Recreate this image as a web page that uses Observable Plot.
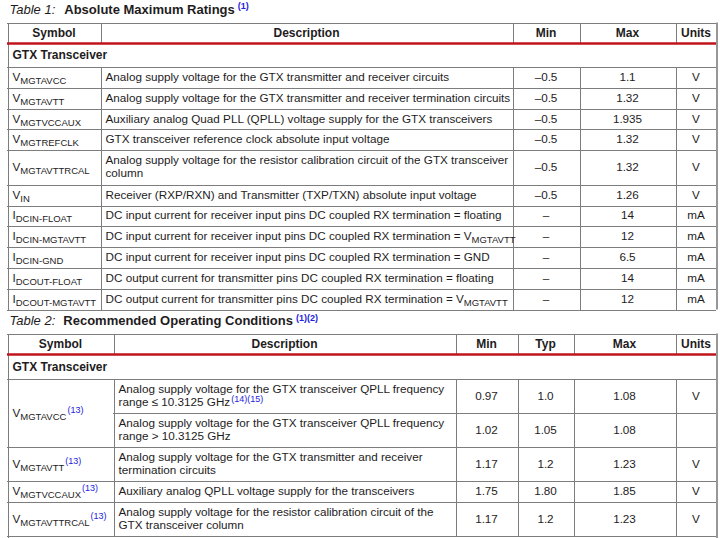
<!DOCTYPE html>
<html><head><meta charset="utf-8">
<script src="https://cdn.jsdelivr.net/npm/d3@7"></script>
<script src="https://cdn.jsdelivr.net/npm/@observablehq/plot@0.6"></script>
<style>html,body{margin:0;padding:0;background:#fff}</style>
</head><body><div id="chart"></div>
<script>
// ---------------- data ----------------
const title1 = "Table 1:";
const heading1 = "Absolute Maximum Ratings";
const notes1 = "(1)";
const columns1 = ["Symbol", "Description", "Min", "Max", "Units"];
const section1 = "GTX Transceiver";
const symbols1 = ["V_{MGTAVCC}", "V_{MGTAVTT}", "V_{MGTVCCAUX}", "V_{MGTREFCLK}", "V_{MGTAVTTRCAL}", "V_{IN}",
  "I_{DCIN-FLOAT}", "I_{DCIN-MGTAVTT}", "I_{DCIN-GND}", "I_{DCOUT-FLOAT}", "I_{DCOUT-MGTAVTT}"];
const descriptions1 = [
  "Analog supply voltage for the GTX transmitter and receiver circuits",
  "Analog supply voltage for the GTX transmitter and receiver termination circuits",
  "Auxiliary analog Quad PLL (QPLL) voltage supply for the GTX transceivers",
  "GTX transceiver reference clock absolute input voltage",
  "Analog supply voltage for the resistor calibration circuit of the GTX transceiver\ncolumn",
  "Receiver (RXP/RXN) and Transmitter (TXP/TXN) absolute input voltage",
  "DC input current for receiver input pins DC coupled RX termination = floating",
  "DC input current for receiver input pins DC coupled RX termination = V_{MGTAVTT}",
  "DC input current for receiver input pins DC coupled RX termination = GND",
  "DC output current for transmitter pins DC coupled RX termination = floating",
  "DC output current for transmitter pins DC coupled RX termination = V_{MGTAVTT}"
];
const min1 = ["–0.5", "–0.5", "–0.5", "–0.5", "–0.5", "–0.5", "–", "–", "–", "–", "–"];
const max1 = ["1.1", "1.32", "1.935", "1.32", "1.32", "1.26", "14", "12", "6.5", "14", "12"];
const units1 = ["V", "V", "V", "V", "V", "V", "mA", "mA", "mA", "mA", "mA"];

const title2 = "Table 2:";
const heading2 = "Recommended Operating Conditions";
const notes2 = "(1)(2)";
const columns2 = ["Symbol", "Description", "Min", "Typ", "Max", "Units"];
const section2 = "GTX Transceiver";
const symbols2 = ["V_{MGTAVCC}^{(13)}", "V_{MGTAVTT}^{(13)}", "V_{MGTVCCAUX}^{(13)}", "V_{MGTAVTTRCAL}^{(13)}"];
const symbolSpan2 = [2, 1, 1, 1];
const descriptions2 = [
  "Analog supply voltage for the GTX transceiver QPLL frequency\nrange ≤ 10.3125 GHz^{(14)(15)}",
  "Analog supply voltage for the GTX transceiver QPLL frequency\nrange > 10.3125 GHz",
  "Analog supply voltage for the GTX transmitter and receiver\ntermination circuits",
  "Auxiliary analog QPLL voltage supply for the transceivers",
  "Analog supply voltage for the resistor calibration circuit of the\nGTX transceiver column"
];
const min2 = ["0.97", "1.02", "1.17", "1.75", "1.17"];
const typ2 = ["1.0", "1.05", "1.2", "1.80", "1.2"];
const max2 = ["1.08", "1.08", "1.23", "1.85", "1.23"];
const units2 = ["V", "", "V", "V", "V"];

// ---------------- style / layout ----------------
const FONT = "'Liberation Sans', Arial, Helvetica, sans-serif";
const INK = "#1e1c1d", BLUE = "#2323e0", RED = "#c0141c", GRID = "#7d7d7d";
const W = 720, H = 538;
const LINE = 13;

const L1 = {edges: [7, 100, 512, 579, 675, 716], titleBase: 13, gap: 9, top: 22, headH: 21, secH: 23, single: 20.8, double: 34.5, extend: null};
const L2 = {edges: [7, 113, 455, 517, 573, 675, 716], titleBase: 324.5, gap: 8, top: 333, headH: 21, secH: 24, single: 21, double: 34, extend: H};

const ctx = document.createElement("canvas").getContext("2d");
function measure(text, f) {
  ctx.font = `${f.style} ${f.weight} ${f.size}px ${FONT}`;
  return ctx.measureText(text).width;
}
function parse(str) {
  const out = []; const re = /([_^])\{([^}]*)\}/g; let last = 0, m;
  while ((m = re.exec(str))) {
    if (m.index > last) out.push({text: str.slice(last, m.index), kind: "n"});
    out.push({text: m[2], kind: m[1] === "_" ? "sub" : "sup"});
    last = re.lastIndex;
  }
  if (last < str.length) out.push({text: str.slice(last), kind: "n"});
  return out;
}
const texts = [];
const BASE = {size: 11.7, weight: "normal", style: "normal", fill: INK, dy: 0};
const BOLD = {...BASE, size: 12, weight: "bold"};
function fontFor(kind, base) {
  if (kind === "sub") return {...base, size: 9.5, weight: "normal", dy: 3};
  if (kind === "sup") return {...base, size: 9, dy: -4, fill: BLUE};
  return base;
}
function placeSegs(segs, x, baseline, anchor) {
  const widths = segs.map(s => measure(s.text, s.f) + (s.gap || 0));
  const total = d3.sum(widths);
  let cx = anchor === "middle" ? x - total / 2 : x;
  segs.forEach((s, i) => {
    cx += (s.gap || 0);
    texts.push({x: cx, y: baseline + s.f.dy, text: s.text, ...s.f});
    cx += widths[i] - (s.gap || 0);
  });
}
function cell(str, x, top, bottom, anchor, base = BASE) {
  const lines = String(str).split("\n");
  const mid = (top + bottom) / 2;
  lines.forEach((ln, i) => {
    if (!ln) return;
    const segs = parse(ln).map(s => ({text: s.text, f: fontFor(s.kind, base), gap: s.kind === "sup" ? 1 : 0}));
    placeSegs(segs, x, mid + (i - (lines.length - 1) / 2) * LINE + 4, anchor);
  });
}

const hGray = [], hRed = [], vGray = [];
const px = v => Math.round(v) + 0.5;

function buildTable(L, titleTxt, heading, notes, columns, section, rows) {
  const E = L.edges, left = E[0], right = E[E.length - 1];
  // title
  placeSegs([
    {text: titleTxt, f: {...BASE, size: 13, style: "italic", dy: 0}},
    {text: heading, f: {...BASE, size: 13, weight: "bold", dy: 0}, gap: L.gap},
    {text: notes, f: {...BASE, size: 9, weight: "bold", fill: BLUE, dy: -4.5}, gap: 3}
  ], left + 2, L.titleBase, "start");
  const top = L.top, headB = top + L.headH, secB = headB + L.secH;
  // header
  columns.forEach((c, i) => cell(c, (E[i] + E[i + 1]) / 2, top, headB, "middle", BOLD));
  // section
  cell(section, left + 5, headB, secB, "start", BOLD);
  // rows
  let y = secB;
  const bounds = rows.map(r => { const h = r.lines > 1 ? L.double : L.single; const b = [y, y + h]; y += h; return b; });
  const bottom = y;
  rows.forEach((r, i) => {
    const [t, b] = bounds[i];
    r.cells.forEach((c, j) => {
      if (c == null) return;
      const span = (j === 0 && r.span) ? r.span : 1;
      const bb = bounds[i + span - 1][1];
      if (j <= 1) cell(c, E[j] + 5, t, bb, "start");
      else cell(c, (E[j] + E[j + 1]) / 2, t, bb, "middle");
    });
    // row bottom line
    const startX = (rows[i + 1] && rows[i + 1].cells[0] === null) ? E[1] : left;
    hGray.push({y: px(b), x1: startX, x2: right});
  });
  hGray.push({y: px(top), x1: left, x2: right});
  hGray.push({y: px(secB), x1: left, x2: right});
  hRed.push({y: headB, x1: left, x2: right});
  vGray.push({x: px(left), y1: px(top), y2: L.extend ?? px(bottom)});
  vGray.push({x: px(right), y1: px(top), y2: L.extend ?? px(bottom), w: 1.6});
  E.slice(1, -1).forEach(e => {
    vGray.push({x: px(e), y1: px(top), y2: headB});
    vGray.push({x: px(e), y1: px(secB), y2: px(bottom)});
  });
}

const rows1 = symbols1.map((s, i) => ({
  lines: descriptions1[i].split("\n").length,
  cells: [s, descriptions1[i], min1[i], max1[i], units1[i]]
}));
buildTable(L1, title1, heading1, notes1, columns1, section1, rows1);

const starts2 = [0];
symbolSpan2.forEach((n, k) => { if (k) starts2.push(starts2[k - 1] + symbolSpan2[k - 1]); });
const rows2 = descriptions2.map((d, i) => {
  const k = starts2.indexOf(i);
  return {
    lines: d.split("\n").length,
    span: k >= 0 ? symbolSpan2[k] : 1,
    cells: [k >= 0 ? symbols2[k] : null, d, min2[i], typ2[i], max2[i], units2[i]]
  };
});
buildTable(L2, title2, heading2, notes2, columns2, section2, rows2);

// ---------------- plot ----------------
const groups = d3.groups(texts, d => [d.size, d.weight, d.style, d.fill].join("|"));
const textMarks = groups.map(([, arr]) => {
  const d0 = arr[0];
  return Plot.text(arr, {
    x: "x", y: "y", text: "text", textAnchor: "start", lineAnchor: "bottom",
    fontSize: d0.size, fontWeight: d0.weight, fontStyle: d0.style, fill: d0.fill, fontFamily: FONT
  });
});

const chart = Plot.plot({
  width: W, height: H, margin: 0,
  x: {domain: [0, W], range: [0, W], axis: null},
  y: {domain: [0, H], range: [0, H], axis: null},
  style: {fontFamily: FONT, background: "#fff", color: INK},
  marks: [
    Plot.ruleY(hGray, {y: "y", x1: "x1", x2: "x2", stroke: GRID, strokeWidth: 1, shapeRendering: "crispEdges"}),
    Plot.ruleX(vGray.filter(d => !d.w), {x: "x", y1: "y1", y2: "y2", stroke: GRID, strokeWidth: 1, shapeRendering: "crispEdges"}),
    Plot.ruleX(vGray.filter(d => d.w), {x: "x", y1: "y1", y2: "y2", stroke: GRID, strokeWidth: 1.6}),
    Plot.ruleY(hRed, {y: "y", x1: "x1", x2: "x2", stroke: RED, strokeWidth: 2.5}),
    ...textMarks
  ]
});
document.getElementById("chart").appendChild(chart);
</script>
</body></html>
